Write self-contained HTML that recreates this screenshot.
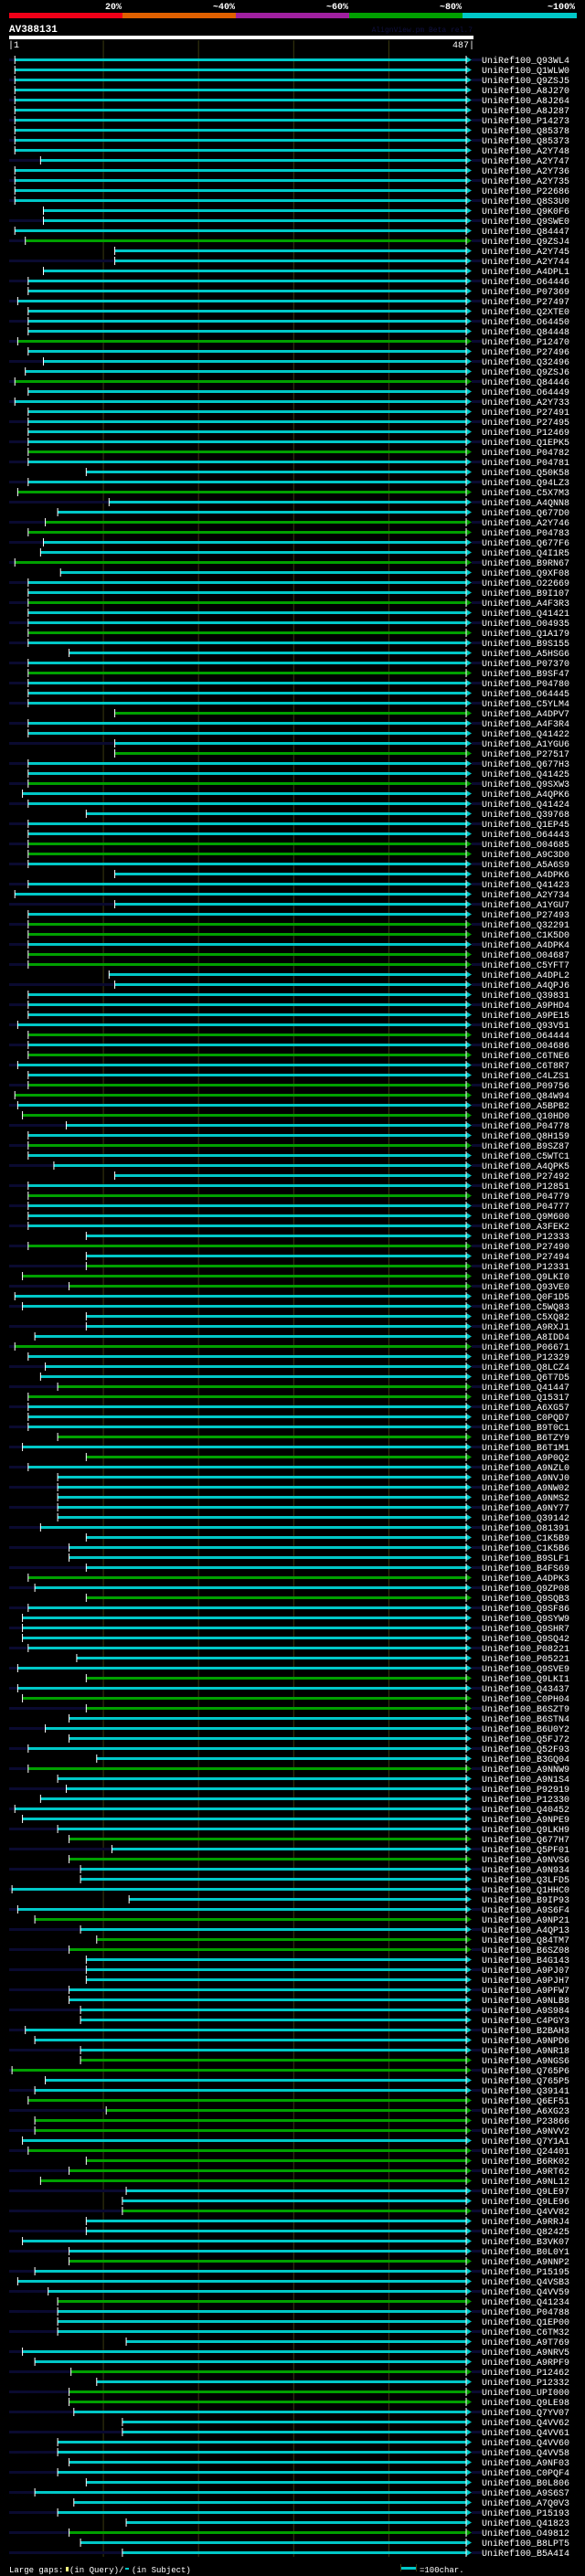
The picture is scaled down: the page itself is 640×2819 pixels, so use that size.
<!DOCTYPE html>
<html><head><meta charset="utf-8"><style>
html,body{margin:0;padding:0;background:#000}
svg{display:block}
text{font-family:"Liberation Mono","DejaVu Sans Mono",monospace}
</style></head><body>
<svg id="chart" width="640" height="2819" viewBox="0 0 640 2819" xmlns="http://www.w3.org/2000/svg">
<rect width="640" height="2819" fill="#000"/>
<g>
<rect x="10" y="14" width="124" height="6" fill="#f00018"/>
<rect x="134" y="14" width="124" height="6" fill="#e06000"/>
<rect x="258" y="14" width="124" height="6" fill="#a020a0"/>
<rect x="382" y="14" width="124" height="6" fill="#00a000"/>
<rect x="506" y="14" width="125" height="6" fill="#00c8c8"/>
<text x="133" y="10" fill="#fff" font-size="10" font-weight="bold" text-anchor="end">20%</text>
<text x="257" y="10" fill="#fff" font-size="10" font-weight="bold" text-anchor="end">~40%</text>
<text x="381" y="10" fill="#fff" font-size="10" font-weight="bold" text-anchor="end">~60%</text>
<text x="505" y="10" fill="#fff" font-size="10" font-weight="bold" text-anchor="end">~80%</text>
<text x="629" y="10" fill="#fff" font-size="10" font-weight="bold" text-anchor="end">~100%</text>
</g>
<text x="10" y="35" fill="#fff" font-size="11" font-weight="bold">AV388131</text>
<text x="517" y="35" fill="#101040" font-size="8" text-anchor="end">AlignView.pm Beta rel.7</text>
<rect x="10" y="39" width="508" height="4" fill="#fff"/>
<text x="9" y="52" fill="#fff" font-size="10">|1</text>
<text x="519" y="52" fill="#fff" font-size="10" text-anchor="end">487|</text>
<g id="grid"></g>
<g id="rows"></g>
<g>
<text x="10" y="2815" fill="#fff" font-size="9">Large gaps:</text>
<rect x="72" y="2809" width="3" height="5" fill="#ffff80"/>
<text x="76" y="2815" fill="#fff" font-size="9">(in Query)/</text>
<rect x="137" y="2810" width="4" height="2" fill="#00c8c8"/>
<text x="144" y="2815" fill="#fff" font-size="9">(in Subject)</text>
<rect x="438" y="2806" width="1" height="8" fill="#3a3a10"/>
<rect x="439" y="2809" width="16" height="3" fill="#00c8c8"/>
<rect x="455" y="2806" width="1" height="8" fill="#3a3a10"/>
<text x="459" y="2815" fill="#fff" font-size="9">=100char.</text>
</g>
</svg>
<script>
const queryLength = 487;
const gridTicks = [100, 200, 300, 400];
const hitNames = ["Q93WL4","Q1WLW0","Q9ZSJ5","A8J270","A8J264","A8J287","P14273","Q85378","Q85373","A2Y748",
"A2Y747","A2Y736","A2Y735","P22686","Q8S3U0","Q9K0F6","Q9SWE0","Q84447","Q9ZSJ4","A2Y745",
"A2Y744","A4DPL1","O64446","P07369","P27497","Q2XTE0","O64450","Q84448","P12470","P27496",
"Q32496","Q9ZSJ6","Q84446","O64449","A2Y733","P27491","P27495","P12469","Q1EPK5","P04782",
"P04781","Q50K58","Q94LZ3","C5X7M3","A4QNN8","Q677D0","A2Y746","P04783","Q677F6","Q4I1R5",
"B9RN67","Q9XF08","O22669","B9I107","A4F3R3","Q41421","O04935","Q1A179","B9S155","A5HSG6",
"P07370","B9SF47","P04780","O64445","C5YLM4","A4DPV7","A4F3R4","Q41422","A1YGU6","P27517",
"Q677H3","Q41425","Q9SXW3","A4QPK6","Q41424","Q39768","Q1EP45","O64443","O04685","A9C3D0",
"A5A6S9","A4DPK6","Q41423","A2Y734","A1YGU7","P27493","Q32291","C1K5D0","A4DPK4","O04687",
"C5YFT7","A4DPL2","A4QPJ6","Q39831","A9PHD4","A9PE15","Q93V51","O64444","O04686","C6TNE6",
"C6T8R7","C4LZS1","P09756","Q84W94","A5BPB2","Q10HD0","P04778","Q8H159","B9SZ87","C5WTC1",
"A4QPK5","P27492","P12851","P04779","P04777","Q9M600","A3FEK2","P12333","P27490","P27494",
"P12331","Q9LKI0","Q93VE0","Q0F1D5","C5WQ83","C5XQ82","A9RXJ1","A8IDD4","P06671","P12329",
"Q8LCZ4","Q6T7D5","Q41447","Q15317","A6XG57","C0PQD7","B9T0C1","B6TZY9","B6T1M1","A9P0Q2",
"A9NZL0","A9NVJ0","A9NW02","A9NMS2","A9NY77","Q39142","O81391","C1K5B9","C1K5B6","B9SLF1",
"B4FS69","A4DPK3","Q9ZP08","Q9SQB3","Q9SF86","Q9SYW9","Q9SHR7","Q9SQ42","P08221","P05221",
"Q9SVE9","Q9LKI1","Q43437","C0PH04","B6SZT9","B6STN4","B6U0Y2","Q5FJ72","Q52F93","B3GQ04",
"A9NNW9","A9N1S4","P92919","P12330","Q40452","A9NPE9","Q9LKH9","Q677H7","Q5PF01","A9NVS6",
"A9N934","Q3LFD5","Q1HHC0","B9IP93","A9S6F4","A9NP21","A4QP13","Q84TM7","B6SZ08","B4G143",
"A9PJ07","A9PJH7","A9PFW7","A9NLB8","A9S984","C4PGY3","B2BAH3","A9NPD6","A9NR18","A9NGS6",
"Q765P6","Q765P5","Q39141","Q6EF51","A6XG23","P23866","A9NVV2","Q7Y1A1","Q24401","B6RK02",
"A9RT62","A9NL12","Q9LE97","Q9LE96","Q4VV82","A9RRJ4","Q82425","B3VK07","B0L0Y1","A9NNP2",
"P15195","Q4VSB3","Q4VV59","Q41234","P04788","Q1EP00","C6TM32","A9T769","A9NRV5","A9RPF9",
"P12462","P12332","UPI000","Q9LE98","Q7YV07","Q4VV62","Q4VV61","Q4VV60","Q4VV58","A9NF03",
"C0PQF4","B0L806","A9S6S7","A7Q0V3","P15193","Q41823","O49812","B8LPT5","B5A4I4"];
const hitStarts = [7,7,7,7,7,7,7,7,7,7,
34,7,7,7,7,37,37,7,18,112,
112,37,21,21,10,21,21,21,10,21,
37,18,7,21,7,21,21,21,21,21,
21,82,21,10,106,52,39,21,37,34,
7,55,21,21,21,21,21,21,21,64,
21,21,21,21,21,112,21,21,112,112,
21,21,21,15,21,82,21,21,21,21,
21,112,21,7,112,21,21,21,21,21,
21,106,112,21,21,21,10,21,21,21,
10,21,21,7,10,15,61,21,21,21,
48,112,21,21,21,21,21,82,21,82,
82,15,64,7,15,82,82,28,7,21,
39,34,52,21,21,21,21,52,15,82,
21,52,52,52,52,52,34,82,64,64,
82,21,28,82,21,15,15,15,21,72,
10,82,10,15,82,64,39,64,21,93,
21,52,61,34,7,15,52,64,109,64,
76,76,4,127,10,28,76,93,64,82,
82,82,64,64,76,76,18,28,76,76,
4,39,28,21,103,28,28,15,21,82,
64,34,124,120,120,82,82,15,64,64,
28,10,42,52,52,52,52,124,15,28,
66,93,64,64,69,120,120,52,52,64,
52,82,28,69,52,124,64,76,120];
const hitColors = "ccccccccccccccccccgcccccccccgcccgccccccgcccgccggccgcccgccgcccgcccgcccgccgcccccggccccccggcggccccccgcgccggcgccgccccgccccgcgggcccccgcccggcccgcgcccccccccccgcgcccccccgcggcccccgccccccgcgcccccgcggccccccccccggccggggcggggccgccccgcccgccccccgcggccccccccccccgcccccc";
const C = {c:"#00c8c8", g:"#00a000"};
const X0 = 10, X1 = 516, ROW0 = 65.5, ROWH = 11;
function xScale(p){ return X0 + (p - 1) * (X1 - X0) / (queryLength - 1); }
function yRow(i){ return ROW0 + i * ROWH; }
const NS = "http://www.w3.org/2000/svg";
function mk(tag, attrs, parent){ const e = document.createElementNS(NS, tag); for (const k in attrs) e.setAttribute(k, attrs[k]); parent.appendChild(e); return e; }
const grid = document.getElementById("grid");
gridTicks.forEach(t => {
  const l = mk("rect", {x: xScale(t) - 0.5, y: 44, width: 1, height: 2754, fill: "#3a3a10"}, grid);
  
  
});
const rows = document.getElementById("rows");
const n = hitStarts.length;
for (let i = 0; i < n; i++) {
  const y = yRow(i);
  const col = C[hitColors[i] || "c"];
  const g = mk("g", {}, rows);
  
  
  const sx = xScale(hitStarts[i]);
  const ex = xScale(queryLength);
  if (i % 2 === 0) {
    mk("rect", {x: X0, y: y - 1.5, width: sx - X0, height: 3, fill: "#0a0a30"}, g);
    mk("rect", {x: ex, y: y - 1.5, width: 11, height: 3, fill: "#0a0a30"}, g);
  }
  const bar = mk("rect", {x: sx, y: y - 1.5, width: ex - 5 - sx, height: 3, fill: col}, g);
  
  
  mk("polygon", {points: (ex-6)+","+(y-3.5)+" "+ex+","+y+" "+(ex-6)+","+(y+3.5), fill: col}, g);
  mk("rect", {x: sx - 0.5, y: y - 4.5, width: 1, height: 9, fill: "#fff"}, g);
  mk("rect", {x: ex - 6.5, y: y - 4.5, width: 1, height: 9, fill: "#fff"}, g);
  const t = mk("text", {x: 527, y: y + 3.5, fill: "#fff", "font-size": 10}, g);
  t.textContent = "UniRef100_" + (hitNames[i] || "");
  
  
}
</script>
</body></html>
